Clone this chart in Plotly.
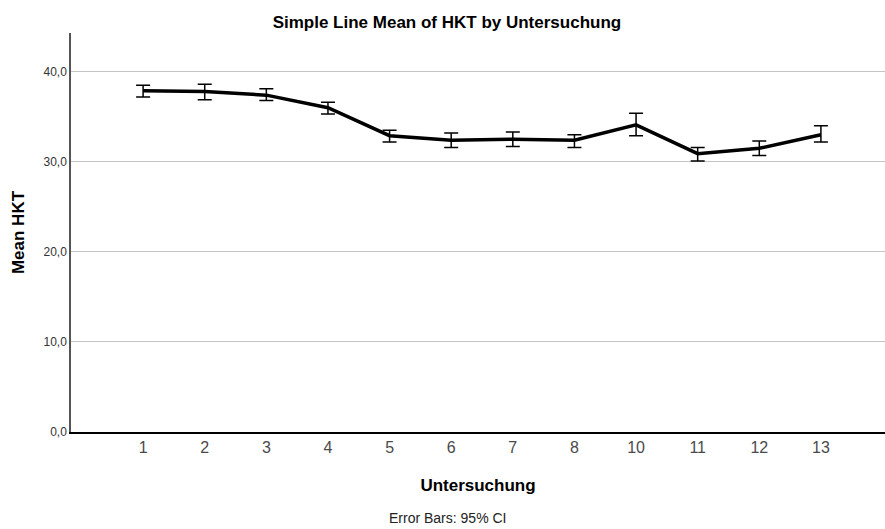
import plotly.graph_objects as go

untersuchung = ["1", "2", "3", "4", "5", "6", "7", "8", "10", "11", "12", "13"]
mean_hkt = [37.9, 37.8, 37.4, 36.0, 32.9, 32.4, 32.5, 32.4, 34.1, 30.9, 31.5, 33.0]
ci_upper = [38.5, 38.6, 38.1, 36.6, 33.5, 33.2, 33.3, 33.0, 35.4, 31.6, 32.3, 34.0]
ci_lower = [37.2, 36.9, 36.8, 35.3, 32.2, 31.6, 31.7, 31.6, 32.9, 30.1, 30.7, 32.2]

err_plus = [u - m for u, m in zip(ci_upper, mean_hkt)]
err_minus = [m - l for m, l in zip(mean_hkt, ci_lower)]

font = "Liberation Sans, Arial, sans-serif"

fig = go.Figure(go.Scatter(
    x=untersuchung,
    y=mean_hkt,
    mode="lines",
    line=dict(color="black", width=3.5),
    error_y=dict(
        type="data",
        array=err_plus,
        arrayminus=err_minus,
        color="black",
        thickness=1.5,
        width=7
    ),
    showlegend=False
))

fig.update_layout(
    width=885,
    height=529,
    margin=dict(l=71, r=0, t=33, b=97),
    paper_bgcolor="white",
    plot_bgcolor="white",
    separators=",.",
    font=dict(family=font, color="black"),
    title=dict(
        text="<b>Simple Line Mean of HKT by Untersuchung</b>",
        x=0.505, xanchor="center", y=0.959, yanchor="middle",
        font=dict(size=17, family=font)
    ),
    xaxis=dict(
        type="category",
        range=[-1.17, 12.04],
        showgrid=False,
        showline=True,
        linecolor="black",
        linewidth=1.5,
        ticks="",
        tickfont=dict(size=16, color="#4a4a4a"),
        title=dict(text="<b>Untersuchung</b>", font=dict(size=17), standoff=24)
    ),
    yaxis=dict(
        range=[0, 44.3],
        tickvals=[0, 10, 20, 30, 40],
        tickformat=".1f",
        showgrid=True,
        gridcolor="#c4c4c4",
        gridwidth=1,
        zeroline=False,
        showline=True,
        linecolor="#555555",
        linewidth=1.5,
        ticks="",
        tickfont=dict(size=12, color="#333333"),
        title=dict(text="<b>Mean HKT</b>", font=dict(size=17), standoff=15)
    ),
    annotations=[dict(
        text="Error Bars: 95% CI",
        x=0.462, y=0, xref="paper", yref="paper",
        xanchor="center", yanchor="middle",
        yshift=-86, showarrow=False,
        font=dict(size=14, family=font, color="#222222")
    )]
)

fig.write_html("out.html", config={"displayModeBar": False},
               post_script="document.body.style.margin='0';")
